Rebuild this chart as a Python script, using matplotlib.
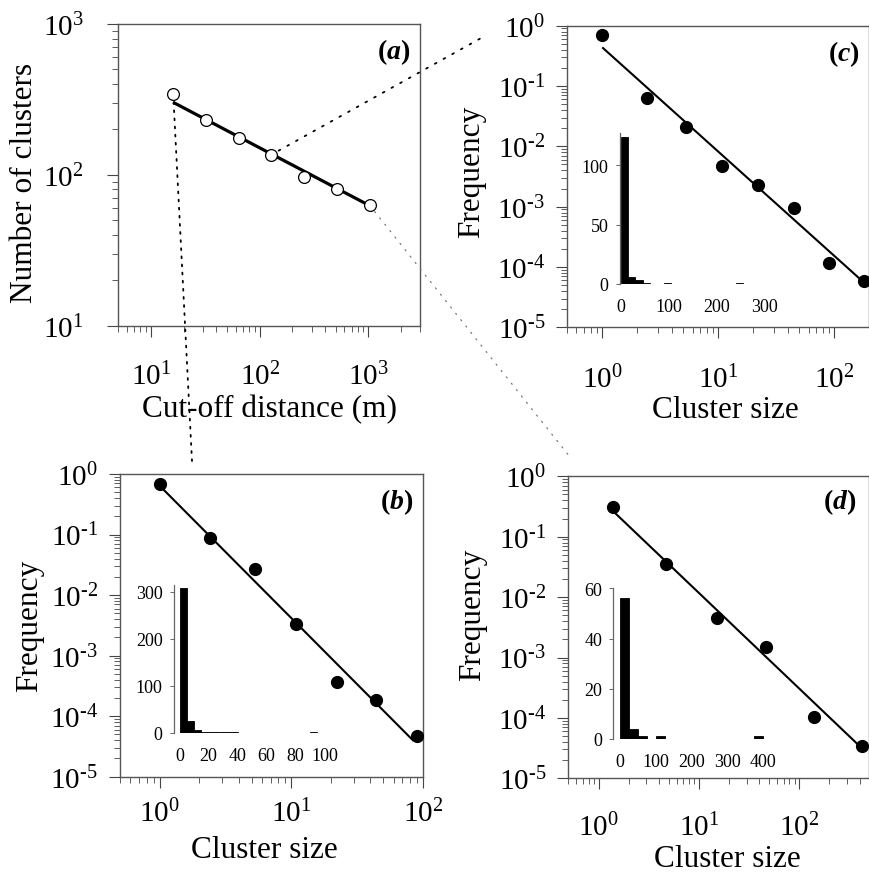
import numpy as np
import matplotlib
matplotlib.use('Agg')
import matplotlib.pyplot as plt
from matplotlib.patches import ConnectionPatch
from matplotlib.ticker import LogLocator, NullFormatter, FixedLocator, FuncFormatter

plt.rcParams['font.family'] = ['Liberation Serif', 'DejaVu Serif']
plt.rcParams['mathtext.fontset'] = 'custom'
plt.rcParams['mathtext.rm'] = 'Liberation Serif'
plt.rcParams['mathtext.it'] = 'Liberation Serif:italic'
plt.rcParams['mathtext.bf'] = 'Liberation Serif:bold'
plt.rcParams['mathtext.bfit'] = 'Liberation Serif:italic:bold'
plt.rcParams['axes.unicode_minus'] = False

# ---------------- data ----------------
cutoff_distance = [16, 32, 64, 128, 256, 512, 1024]
n_clusters = [344, 231, 175, 136, 97, 81, 63]
fit_a = (2.937, -0.379)          # log10(y) = a + b*log10(x)

size_b = [1.0, 2.43, 5.29, 10.9, 22.4, 44.1, 90]
freq_b = [0.684, 0.0865, 0.027, 0.00333, 0.000371, 0.000187, 4.75e-5]
fit_b = (-0.193, -2.184)

size_c = [1.0, 2.41, 5.23, 10.8, 22.1, 45.2, 90, 180]
freq_c = [0.70, 0.0633, 0.0207, 0.00466, 0.00232, 0.000938, 0.000116, 5.8e-5]
fit_c = (-0.359, -1.729)

size_d = [1.38, 4.76, 15.0, 46.5, 139, 421]
freq_d = [0.307, 0.0349, 0.00451, 0.00151, 0.000102, 3.39e-5]
fit_d = (-0.347, -1.583)

hist_b_left = [0, 5, 10, 15, 20, 25, 30, 35, 90]
hist_b_count = [308, 24, 5, 1, 1, 1, 1, 1, 1]
hist_b_width = 5
hist_b_xticks = [0, 20, 40, 60, 80, 100]
hist_b_yticks = [0, 100, 200, 300]

hist_c_left = [0, 15, 30, 45, 90, 240]
hist_c_count = [124, 6, 3, 1, 1, 1]
hist_c_width = 15
hist_c_xticks = [0, 100, 200, 300]
hist_c_yticks = [0, 50, 100]

hist_d_left = [0, 25, 50, 100, 375]
hist_d_count = [56, 4, 1, 1, 1]
hist_d_width = 25
hist_d_xticks = [0, 100, 200, 300, 400]
hist_d_yticks = [0, 20, 40, 60]

# ---------------- layout ----------------
W, H = 869, 879
fig = plt.figure(figsize=(W / 100, H / 100), dpi=100)


def box(left, top, right, bottom):
    return [left / W, 1 - bottom / H, (right - left) / W, (bottom - top) / H]


SPINE = '#555555'
TICKC = '#444444'


def pow_label(v, pos):
    e = int(round(np.log10(v)))
    s = str(e).replace('-', '\u2010')
    return r'$10^{%s}$' % s


def style_main(ax, xpad, ypad):
    ax.set_xscale('log')
    ax.set_yscale('log')
    for s in ax.spines.values():
        s.set_color(SPINE)
        s.set_linewidth(1.0)
    ax.tick_params(which='major', direction='out', length=8, width=0.8,
                   color=TICKC, labelsize=21)
    ax.tick_params(which='minor', direction='out', length=4, width=0.6,
                   color=TICKC)
    ax.tick_params(axis='x', which='major', pad=xpad)
    ax.tick_params(axis='y', which='major', pad=ypad)
    ax.xaxis.set_major_locator(LogLocator(base=10, numticks=10))
    ax.yaxis.set_major_locator(LogLocator(base=10, numticks=10))
    ax.xaxis.set_minor_locator(LogLocator(base=10, subs=np.arange(2, 10), numticks=20))
    ax.yaxis.set_minor_locator(LogLocator(base=10, subs=np.arange(2, 10), numticks=20))
    ax.xaxis.set_major_formatter(FuncFormatter(pow_label))
    ax.yaxis.set_major_formatter(FuncFormatter(pow_label))
    ax.xaxis.set_minor_formatter(NullFormatter())
    ax.yaxis.set_minor_formatter(NullFormatter())


def labels(ax, xl, yl, xpos, ypos, tag, tagpos):
    ax.set_xlabel(xl, fontsize=22.5)
    ax.set_ylabel(yl, fontsize=22.5)
    ax.xaxis.label.set_va('center')
    ax.yaxis.label.set_va('center')
    ax.xaxis.set_label_coords(*xpos)
    ax.yaxis.set_label_coords(*ypos)
    ax.text(tagpos[0], tagpos[1], r'$\mathbf{(}\mathbfit{%s}\mathbf{)}$' % tag,
            transform=ax.transAxes, ha='right', va='center', fontsize=20)


def fit_line(ax, xs, fit, lw):
    lx = np.log10([min(xs), max(xs)])
    ax.plot(10 ** lx, 10 ** (fit[0] + fit[1] * lx), color='black', lw=lw,
            solid_capstyle='butt', zorder=2)


def inset(pos, left, count, width, xlim, ylim, xticks, yticks):
    ia = fig.add_axes(pos)
    ia.bar(left, count, width=width, align='edge', color='black',
           edgecolor='black', linewidth=0.6)
    ia.set_xlim(*xlim)
    ia.set_ylim(*ylim)
    ia.patch.set_alpha(0)
    for k in ['top', 'right', 'bottom']:
        ia.spines[k].set_visible(False)
    ia.spines['left'].set_color('#666666')
    ia.spines['left'].set_linewidth(0.9)
    ia.xaxis.set_major_locator(FixedLocator(xticks))
    ia.yaxis.set_major_locator(FixedLocator(yticks))
    ia.tick_params(axis='x', length=0, pad=10, labelsize=13)
    ia.tick_params(axis='y', direction='out', length=3, width=0.7,
                   color='#666666', pad=5, labelsize=13)
    return ia


# ---- panel (a) ----
ax_a = fig.add_axes(box(118.3, 25, 420.3, 326.7))
style_main(ax_a, xpad=18, ypad=17)
fit_line(ax_a, cutoff_distance, fit_a, lw=2.3)
ax_a.plot(cutoff_distance, n_clusters, 'o', ms=8.5, mfc='white', mec='black',
          mew=0.9, zorder=3)
ax_a.set_xlim(5, 3000)
ax_a.set_ylim(10, 1000)
labels(ax_a, 'Cut-off distance (m)', 'Number of clusters',
       (0.5, -0.276), (-0.309, 0.478), 'a', (0.967, 0.911))

# ---- panel (c) ----
ax_c = fig.add_axes(box(567.3, 26.7, 869.3, 328.3))
style_main(ax_c, xpad=19, ypad=8)
fit_line(ax_c, [1.0, 166], fit_c, lw=1.5)
ax_c.plot(size_c, freq_c, 'o', ms=8.5, color='black', zorder=3)
ax_c.set_xlim(0.5, 200)
ax_c.set_ylim(1e-5, 1)
labels(ax_c, 'Cluster size', 'Frequency',
       (0.525, -0.274), (-0.316, 0.518), 'c', (0.969, 0.909))

# ---- panel (b) ----
ax_b = fig.add_axes(box(120, 475, 422.7, 777.7))
style_main(ax_b, xpad=8, ypad=8)
fit_line(ax_b, [1.0, 85], fit_b, lw=1.5)
ax_b.plot(size_b, freq_b, 'o', ms=8.5, color='black', zorder=3)
ax_b.set_xlim(0.5, 100)
ax_b.set_ylim(1e-5, 1)
labels(ax_b, 'Cluster size', 'Frequency',
       (0.476, -0.242), (-0.30, 0.50), 'b', (0.969, 0.909))

# ---- panel (d) ----
ax_d = fig.add_axes(box(568.3, 477.3, 869.3, 779.3))
style_main(ax_d, xpad=16.5, ypad=8)
fit_line(ax_d, size_d, fit_d, lw=1.5)
ax_d.plot(size_d, freq_d, 'o', ms=8.5, color='black', zorder=3)
ax_d.set_xlim(0.5, 500)
ax_d.set_ylim(1e-5, 1)
labels(ax_d, 'Cluster size', 'Frequency',
       (0.529, -0.267), (-0.318, 0.544), 'd', (0.958, 0.917))

# ---- insets ----
inset(box(173.8, 585.5, 173.8 + 114 * 1.45, 733.7), hist_b_left, hist_b_count,
      hist_b_width, (-4, 110), (0, 315), hist_b_xticks, hist_b_yticks)
inset(box(619.5, 134, 619.5 + 333 * 0.48, 285), hist_c_left, hist_c_count,
      hist_c_width, (-3, 330), (0, 127), hist_c_xticks, hist_c_yticks)
inset(box(613.3, 589.3, 613.3 + 449 * 0.358, 740), hist_d_left, hist_d_count,
      hist_d_width, (-19, 430), (0, 60), hist_d_xticks, hist_d_yticks)

# ---- dotted connectors ----
def connector(i, end_px, color, lw, ls):
    cp = ConnectionPatch(xyA=(cutoff_distance[i], n_clusters[i]), coordsA=ax_a.transData,
                         xyB=(end_px[0] / W, 1 - end_px[1] / H), coordsB='figure fraction',
                         color=color, lw=lw, linestyle=ls, shrinkA=6, shrinkB=0,
                         zorder=5)
    fig.add_artist(cp)


connector(3, (483, 38), 'black', 1.3, (0, (1, 4.5)))
connector(0, (192, 462), 'black', 1.3, (0, (1, 3.5)))
connector(6, (570, 458), '#777777', 0.9, (0, (1, 5.5)))

fig.savefig('out.png', dpi=100)
